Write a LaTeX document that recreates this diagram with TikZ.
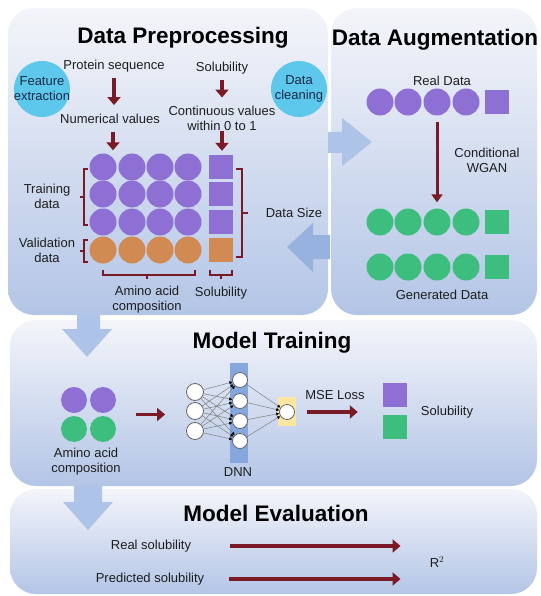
\documentclass[tikz,border=0pt]{standalone}
\usepackage{fontspec}
\setmainfont{Liberation Sans}
\usepackage{tikz}
\usetikzlibrary{arrows.meta, positioning, calc}

\definecolor{darkred}{HTML}{7A1A26}
\definecolor{purp}{HTML}{8E70D4}
\definecolor{orng}{HTML}{D08A52}
\definecolor{grn}{HTML}{3DBE7E}
\definecolor{cyanball}{HTML}{5EC8EC}
\definecolor{navy}{HTML}{1C2A48}
\definecolor{ink}{HTML}{1E1E1E}
\definecolor{paneltop}{HTML}{F4F5FA}
\definecolor{panelbot}{HTML}{B3C5E6}
\definecolor{bigarrow}{HTML}{AEC3E8}
\definecolor{bigarrowdark}{HTML}{98B2E0}
\definecolor{hidblue}{HTML}{86A7DD}
\definecolor{outyellow}{HTML}{FDE5A2}

\begin{document}
\begin{tikzpicture}[x=1pt, y=-1pt,
    txt/.style={font=\fontsize{13}{15}\selectfont, text=ink, align=center, inner sep=0pt},
    heading/.style={font=\fontsize{22.5}{26}\selectfont\bfseries, text=black, inner sep=0pt},
    ball/.style={circle, minimum size=27pt, inner sep=0pt},
    sq/.style={minimum size=24pt, inner sep=0pt},
    bubble/.style={circle, fill=cyanball, minimum size=56pt, inner sep=0pt},
    flow/.style={-{Triangle[length=8pt,width=13pt]}, line width=3.5pt, darkred},
    brace/.style={darkred, line width=1.5pt},
    neuron/.style={circle, draw=gray!80!black, fill=white, minimum size=15pt, inner sep=0pt, line width=0.8pt},
    synapse/.style={-{Latex[length=3pt,width=3.5pt,color=black]}, gray, line width=0.5pt},
    panel/.style={top color=paneltop, bottom color=panelbot, rounded corners=26pt}
]
    \useasboundingbox (0,0) rectangle (540,596);

    % Panels
    \shade[panel] (8,8) rectangle (328,315);
    \shade[panel] (331,8) rectangle (537,315);
    \shade[panel] (10,320) rectangle (537,486);
    \shade[panel] (10,489) rectangle (537,594);

    % Big arrows between the panels
    \fill[bigarrow] (328,132) -- (342,132) -- (342,118) -- (372,142) -- (342,166) -- (342,153) -- (328,153) -- cycle;
    \fill[bigarrowdark] (330,235) -- (313,235) -- (313,223) -- (287,247) -- (313,272) -- (313,259) -- (330,259) -- cycle;
    \fill[bigarrow] (77,315) -- (100,315) -- (100,329) -- (112,329) -- (87,357) -- (62,329) -- (77,329) -- cycle;
    \fill[bigarrow] (74,486) -- (102,486) -- (102,502) -- (113,502) -- (88,530) -- (63,502) -- (74,502) -- cycle;

    % ---------------- Data Preprocessing ----------------
    \node[heading] (preTitle) at (183,38) {Data Preprocessing};

    \node[bubble] (featBall) at (42,89) {};
    \node[txt, text=navy] (featTxt) at (featBall) {Feature\\extraction};
    \node[bubble] (cleanBall) at (299,89) {};
    \node[txt, text=navy] (cleanTxt) at (cleanBall) {Data\\cleaning};

    \node[txt] (protSeq) at (114,66) {Protein sequence};
    \node[txt] (numVal) at (110,119) {Numerical values};
    \node[txt] (solTop) at (222,68) {Solubility};
    \node[txt] (contVal) at (222,118) {Continuous values\\within 0 to 1};

    % Sample grid
    \foreach \r/\y in {1/167,2/194,3/222}
        \foreach \c/\x in {1/103,2/132,3/160,4/188}
            \node[ball, fill=purp] (g\r\c) at (\x,\y) {};
    \foreach \c/\x in {1/103,2/132,3/160,4/188}
        \node[ball, fill=orng] (g4\c) at (\x,250) {};
    \foreach \r/\y in {1/167,2/194,3/222}
        \node[sq, fill=purp] (s\r) at (221,\y) {};
    \node[sq, fill=orng] (s4) at (221,250) {};

    \draw[flow, shorten <=6pt, shorten >=9pt] (protSeq.south) -- (protSeq.south |- numVal.north);
    \draw[flow, shorten <=8pt, shorten >=3pt] ([xshift=3pt]numVal.south) -- ([xshift=3pt]numVal.south |- g11.north);
    \draw[flow, shorten <=6pt, shorten >=8pt] (solTop.south) -- (solTop.south |- contVal.north);
    \draw[flow, shorten <=1pt, shorten >=4pt] (contVal.south) -- (contVal.south |- s1.north);

    % Brackets
    \draw[brace] (88,169) -- (84,169) -- (84,225) -- (88,225);
    \draw[brace] (84,197) -- (80,197);
    \draw[brace] (88,240) -- (84,240) -- (84,262) -- (88,262);
    \draw[brace] (84,251) -- (80,251);
    \draw[brace] (236,169) -- (242,169) -- (242,257) -- (236,257);
    \draw[brace] (242,213) -- (248,213);
    \draw[brace] (103,270) -- (103,275) -- (195,275) -- (195,270);
    \draw[brace] (147,275) -- (147,279);
    \draw[brace] (210,270) -- (210,275) -- (232,275) -- (232,270);
    \draw[brace] (221,275) -- (221,279);

    \node[txt] (trainTxt) at (47,196) {Training\\data};
    \node[txt] (validTxt) at (47,250) {Validation\\data};
    \node[txt] (sizeTxt) at (294,213) {Data Size};
    \node[txt] (aaTxt) at (147,300) {Amino acid\\composition};
    \node[txt] (solBot) at (221,293) {Solubility};

    % ---------------- Data Augmentation ----------------
    \node[heading] (augTitle) at (435,40) {Data Augmentation};
    \node[txt] (realData) at (442,81) {Real Data};
    \foreach \c/\x in {1/380,2/408,3/437,4/466} {
        \node[ball, fill=purp] (r\c) at (\x,102) {};
        \node[ball, fill=grn] (a\c) at (\x,222) {};
        \node[ball, fill=grn] (b\c) at (\x,267) {};
    }
    \node[sq, fill=purp] (r5) at (497,102) {};
    \node[sq, fill=grn] (a5) at (497,222) {};
    \node[sq, fill=grn] (b5) at (497,267) {};
    \draw[flow, line width=3pt, -{Triangle[length=8pt,width=11pt]}, shorten <=6pt, shorten >=6pt] (r3) -- (a3);
    \node[txt] (wganTxt) at (487,160) {Conditional\\WGAN};
    \node[txt] (genData) at (442,295) {Generated Data};

    % ---------------- Model Training ----------------
    \node[heading] (trainTitle) at (272,343) {Model Training};
    \node[ball, minimum size=26pt, fill=purp] (m11) at (74,400) {};
    \node[ball, minimum size=26pt, fill=purp] (m12) at (103,400) {};
    \node[ball, minimum size=26pt, fill=grn] (m21) at (74,429) {};
    \node[ball, minimum size=26pt, fill=grn] (m22) at (103,429) {};
    \node[txt] (amTxt) at (86,462) {Amino acid\\composition};

    % DNN
    \fill[hidblue] (230,363) rectangle (248,463);
    \fill[outyellow] (278,397) rectangle (296,426);
    \foreach \i/\y in {1/392,2/411,3/431}
        \node[neuron, minimum size=17pt] (i\i) at (195,\y) {};
    \foreach \h/\y in {1/380,2/401,3/421,4/441}
        \node[neuron] (h\h) at (240,\y) {};
    \node[neuron] (o) at (287,412) {};
    \foreach \i in {1,2,3}
        \foreach \h in {1,...,4}
            \draw[synapse] (i\i) -- (h\h);
    \foreach \h in {1,...,4}
        \draw[synapse] (h\h) -- (o);
    \node[txt] (dnnTxt) at (238,472) {DNN};

    \coordinate (amMid) at ($(m12)!0.5!(m22)$);
    \draw[flow, shorten <=33pt, shorten >=21pt] (amMid) -- (amMid -| i2.west);

    \node[txt] (mseTxt) at (335,395) {MSE Loss};
    \node[sq, fill=purp] (tp) at (395,395) {};
    \node[sq, fill=grn] (tg) at (395,427) {};
    \node[txt] (solOut) at (447,412) {Solubility};
    \draw[flow, shorten <=12pt, shorten >=25pt] (o.east) -- (o.east -| tp.west);

    % ---------------- Model Evaluation ----------------
    \node[heading] (evalTitle) at (276,513) {Model Evaluation};
    \node[txt] (realSol) at (151,546) {Real solubility};
    \node[txt] (predSol) at (150,579) {Predicted solubility};
    \node[txt] (rSq) at (437,562) {R$^2$};
    \draw[flow, shorten <=39pt, shorten >=29pt] (realSol.east) -- (realSol.east -| rSq.west);
    \draw[flow, shorten <=25pt, shorten >=29pt] (predSol.east) -- (predSol.east -| rSq.west);
\end{tikzpicture}
\end{document}
